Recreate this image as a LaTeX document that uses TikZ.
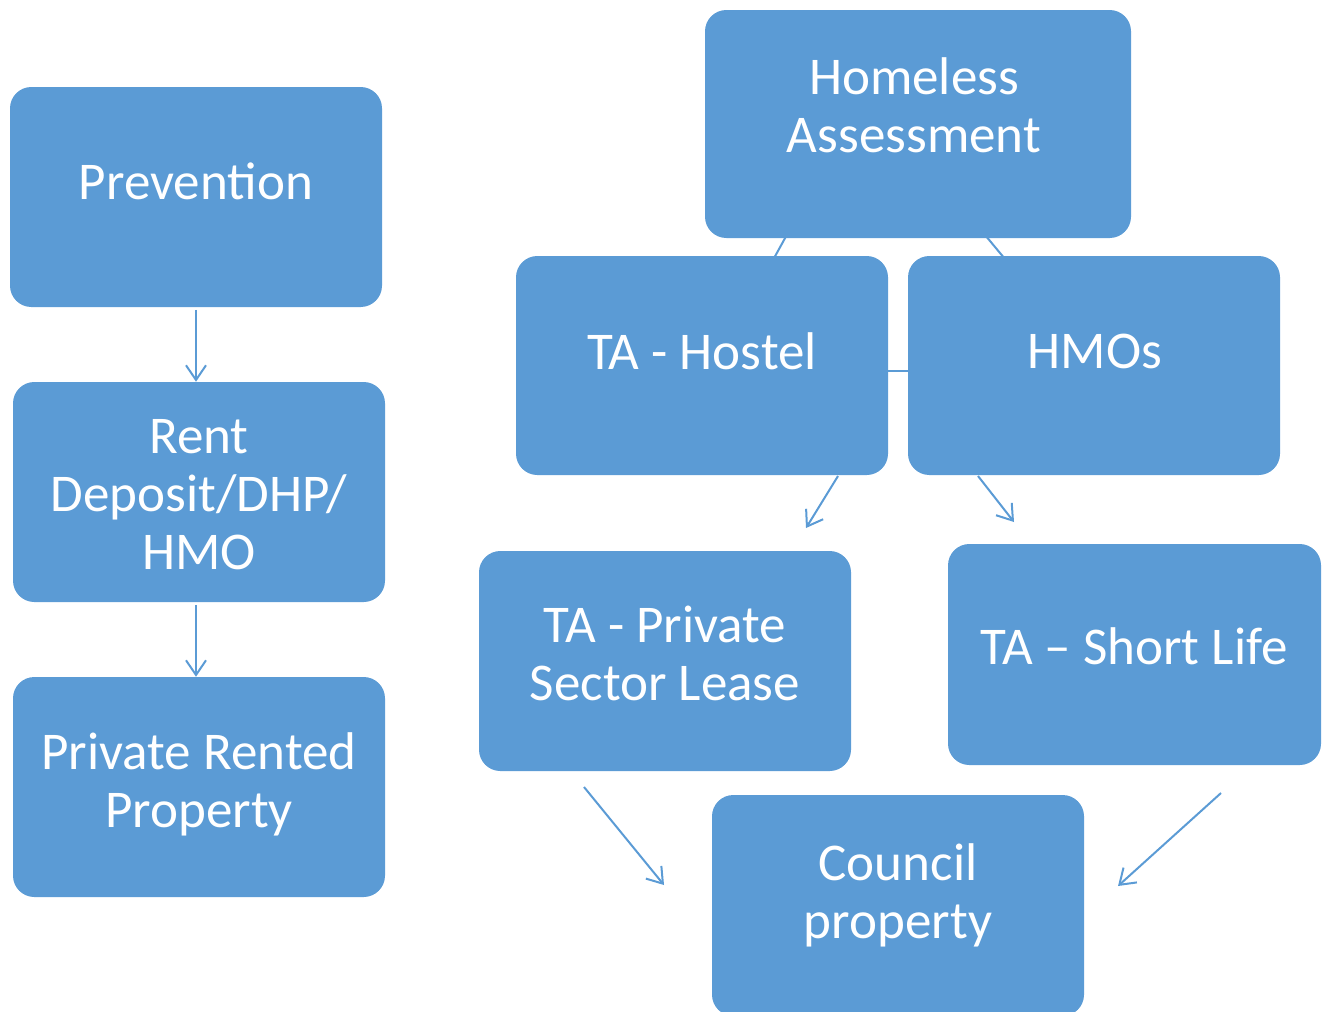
\documentclass[tikz,border=0pt]{standalone}
\usepackage{fontspec}
\setmainfont{Carlito}
\usetikzlibrary{arrows.meta,backgrounds,fit}
\definecolor{boxblue}{HTML}{5B9BD5}
\begin{document}
\begin{tikzpicture}[x=0.75pt,y=-0.75pt,
  box/.style={fill=boxblue, draw=none, rounded corners=16pt, inner sep=0pt},
  lbl/.style={text=white, align=center, inner sep=0pt,
    font=\fontsize{39.8}{43.5}\selectfont},
  link/.style={draw=boxblue, line width=1.5pt},
  arr/.style={link, -{Straight Barb[length=11pt,width=15pt,line width=1.5pt]}}]
\useasboundingbox (0,0) rectangle (1330,1011);
\clip (0,0) rectangle (1330,1011);

% left column
\node[box, fit={(10,87) (382,307)}] (prev) {};
\node[box, fit={(13,382) (385,602)}] (rent) {};
\node[box, fit={(13,677) (385,897)}] (prs) {};
\node[lbl] (prevT) at (196,181.5) {Prevention};
\node[lbl] (rentT) at (199,495) {Rent\\Deposit/DHP/\\HMO};
\node[lbl] (prsT) at (199,784.5) {Private Rented\\Property};

% right tree
\node[box, fit={(705,10) (1131,238)}] (home) {};
\node[box, fit={(516,256) (888,475)}] (hostel) {};
\node[box, fit={(908,256) (1280,475)}] (hmo) {};
\node[box, fit={(479,551) (851,771)}] (psl) {};
\node[box, fit={(948,544) (1321,765)}] (short) {};
\node[box, fit={(712,795) (1084,1016)}] (council) {};
\node[lbl] (homeT) at (914,105) {Homeless\\Assessment};
\node[lbl] (hostelT) at (702,351.5) {TA - Hostel};
\node[lbl] (hmoT) at (1095,351.5) {HMOs};
\node[lbl] (pslT) at (665,653.5) {TA - Private\\Sector Lease};
\node[lbl] (shortT) at (1134,646.5) {TA – Short Life};
\node[lbl] (councilT) at (898,895) {Council\\property};

% free ends of the connectors
\coordinate (hA) at (806,200);
\coordinate (hB) at (751,300);
\coordinate (mA) at (956,200);
\coordinate (mB) at (1039,300);
\coordinate (pA) at (838,476);
\coordinate (pB) at (806,528);
\coordinate (sA) at (978,476);
\coordinate (sB) at (1014,522);
\coordinate (cA) at (584,787);
\coordinate (cB) at (664,885);
\coordinate (dA) at (1221,793);
\coordinate (dB) at (1118,886);

\begin{pgfonlayer}{background}
  \draw[link] (hA) -- (hB);
  \draw[link] (mA) -- (mB);
  \draw[link] ([xshift=-20pt]hostel.east |- 0,371) -- ([xshift=20pt]hmo.west |- 0,371);
\end{pgfonlayer}

\draw[arr] ([yshift=-2pt]prev.south) -- (prev.south |- rent.north);
\draw[arr] ([yshift=-2pt]prev.south |- rent.south) -- (prev.south |- prs.north);
\draw[arr] (pA) -- (pB);
\draw[arr] (sA) -- (sB);
\draw[arr] (cA) -- (cB);
\draw[arr] (dA) -- (dB);
\end{tikzpicture}
\end{document}
